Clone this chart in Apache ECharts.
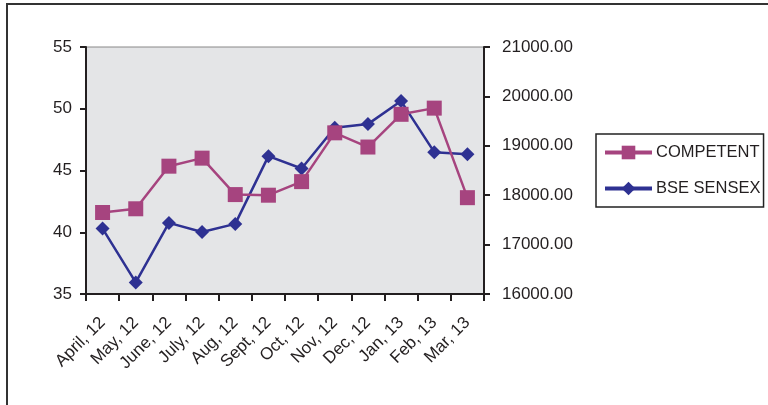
<!DOCTYPE html>
<html>
<head>
<meta charset="utf-8">
<script src="https://cdn.jsdelivr.net/npm/echarts@6/dist/echarts.min.js"></script>
<style>
  html, body { margin: 0; padding: 0; background: #fff; }
  #chart { width: 768px; height: 405px; }
</style>
</head>
<body>
<div id="chart"></div>
<script>
    "use strict";

    const months = ['April, 12', 'May, 12', 'June, 12', 'July, 12', 'Aug, 12', 'Sept, 12',
                    'Oct, 12', 'Nov, 12', 'Dec, 12', 'Jan, 13', 'Feb, 13', 'Mar, 13'];
    const competent = [41.6, 41.9, 45.35, 46.0, 43.05, 43.0, 44.1, 48.05, 46.9, 49.55, 50.05, 42.8];
    const sensex = [17324, 16235, 17439, 17256, 17419, 18790, 18541, 19365, 19439, 19905, 18871, 18831];

    const myChart = echarts.init(document.getElementById('chart'));
    const fontFam = 'Liberation Sans, Arial, sans-serif';
    const axisFont = { color: '#231f20', fontSize: 17, fontFamily: fontFam };

    let options = {
        animation: false,
        graphic: [{
            type: 'rect',
            shape: { x: 7, y: 4, width: 800, height: 500 },
            style: { fill: 'none', stroke: '#333', lineWidth: 2 }
        }],
        grid: {
            left: 86, right: 284, top: 47, bottom: 111,
            show: true,
            backgroundColor: '#e4e5e7',
            borderColor: '#888',
            borderWidth: 1
        },
        legend: {
            orient: 'vertical',
            left: 596, top: 134,
            padding: [10, 3, 10, 7],
            itemGap: 19,
            itemWidth: 47,
            itemHeight: 17,
            borderColor: '#222',
            borderWidth: 1.5,
            backgroundColor: '#fff',
            lineStyle: { width: 4 },
            textStyle: { color: '#231f20', fontSize: 16.5, fontFamily: fontFam, padding: [0, 0, 0, -1] },
            data: ['COMPETENT', 'BSE SENSEX']
        },
        xAxis: {
            type: 'category',
            data: months,
            boundaryGap: true,
            axisLine: { lineStyle: { color: '#231f20', width: 2 } },
            axisTick: { show: true, length: 7, lineStyle: { color: '#231f20', width: 2 } },
            axisLabel: Object.assign({}, axisFont, { rotate: 45, interval: 0, margin: 26, fontSize: 17 })
        },
        yAxis: [
            {
                type: 'value', min: 35, max: 55, interval: 5,
                splitLine: { show: false },
                axisLine: { show: true, lineStyle: { color: '#231f20', width: 2 } },
                axisTick: { show: true, length: 6, lineStyle: { color: '#231f20', width: 2 } },
                axisLabel: Object.assign({ margin: 14 }, axisFont)
            },
            {
                type: 'value', min: 16000, max: 21000, interval: 1000,
                splitLine: { show: false },
                axisLine: { show: true, lineStyle: { color: '#231f20', width: 2 } },
                axisTick: { show: true, length: 6, lineStyle: { color: '#231f20', width: 2 } },
                axisLabel: Object.assign({ margin: 18, formatter: v => v.toFixed(2) }, axisFont)
            }
        ],
        series: [
            {
                name: 'BSE SENSEX',
                type: 'line',
                yAxisIndex: 1,
                data: sensex,
                symbol: 'diamond',
                symbolSize: 14,
                itemStyle: { color: '#2e3192' },
                lineStyle: { color: '#2e3192', width: 2.5 },
                z: 2
            },
            {
                name: 'COMPETENT',
                type: 'line',
                yAxisIndex: 0,
                data: competent,
                symbol: 'rect',
                symbolSize: 15,
                itemStyle: { color: '#a6447f' },
                lineStyle: { color: '#a6447f', width: 2.5 },
                z: 3
            }
        ]
    };
    myChart.setOption(options);
</script>
</body>
</html>
